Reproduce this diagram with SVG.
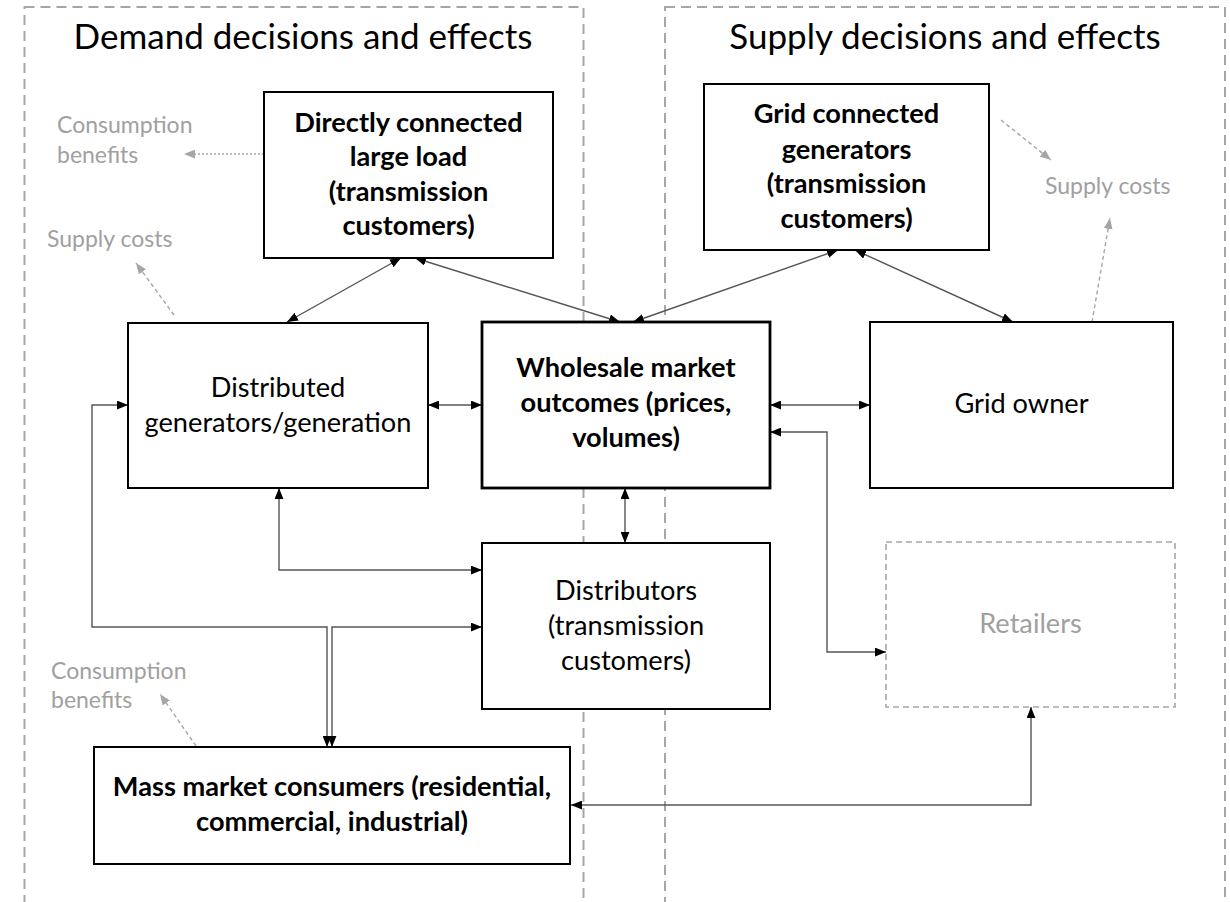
<svg xmlns="http://www.w3.org/2000/svg" width="1230" height="902" viewBox="0 0 1230 902">
<style>
.region{fill:none;stroke:#a6a6a6;stroke-width:2;stroke-dasharray:10 6}
.box{fill:#fff;stroke:#000;stroke-width:2}
.thick{stroke-width:2.8}
.ret{fill:#fff;stroke:#a6a6a6;stroke-width:1.6;stroke-dasharray:6 4}
.title{font-family:Lato,"Liberation Sans",sans-serif;font-size:35px;fill:#000;text-anchor:middle}
.t{font-family:Lato,"Liberation Sans",sans-serif;font-size:27.2px;fill:#000;text-anchor:middle}
.b{font-weight:bold}
.g{font-family:Lato,"Liberation Sans",sans-serif;font-size:23px;fill:#a0a0a0}
.gt{fill:#a0a0a0}
.c{fill:none;stroke:#555;stroke-width:1.4;marker-start:url(#ah);marker-end:url(#ah)}
.e{fill:none;stroke:#a6a6a6;stroke-width:1.4;stroke-dasharray:4 3;marker-end:url(#gh)}
.dot{stroke-dasharray:2 2}
</style>
<defs>
<marker id="ah" markerUnits="userSpaceOnUse" viewBox="0 0 10 8" refX="10" refY="4" markerWidth="11" markerHeight="9" orient="auto-start-reverse"><path d="M0,0 L10,4 L0,8 z" fill="#000"/></marker>
<marker id="gh" markerUnits="userSpaceOnUse" viewBox="0 0 10 8" refX="10" refY="4" markerWidth="11" markerHeight="9" orient="auto"><path d="M0,0 L10,4 L0,8 z" fill="#a6a6a6"/></marker>
</defs>
<rect width="1230" height="902" fill="#fff"/>
<g id="regions">
<rect class="region" x="24.5" y="7" width="559" height="930"/>
<rect class="region" x="665" y="7" width="560" height="930"/>
<text class="title" x="303" y="49">Demand decisions and effects</text>
<text class="title" x="945" y="49">Supply decisions and effects</text>
</g>
<g id="effects">
<text class="g" x="57" y="133">Consumption</text>
<text class="g" x="57" y="163">benefits</text>
<text class="g" x="47" y="247">Supply costs</text>
<text class="g" x="1045" y="194">Supply costs</text>
<text class="g" x="51" y="679">Consumption</text>
<text class="g" x="51" y="708">benefits</text>
<path class="e dot" d="M264,154 L184,154"/>
<path class="e" d="M174,315 L136,263"/>
<path class="e" d="M1001,120 L1051,160"/>
<path class="e" d="M1092,322 L1110,218"/>
<path class="e" d="M196,746 L160,694"/>
</g>
<g id="connectors">
<path class="c" d="M401,258 L287,322"/>
<path class="c" d="M415,258 L620,322"/>
<path class="c" d="M838,250 L633,322"/>
<path class="c" d="M855,250 L1013,322"/>
<path class="c" d="M428,405 L482,405"/>
<path class="c" d="M770,405 L870,405"/>
<path class="c" d="M770,432 L827,432 L827,652 L886,652"/>
<path class="c" d="M625,488 L625,543"/>
<path class="c" d="M279,488 L279,570 L482,570"/>
<path class="c" d="M128,405 L92,405 L92,627 L327,627 L327,747"/>
<path class="c" d="M482,627 L332,627 L332,747"/>
<path class="c" d="M1031,707 L1031,805 L571,805"/>
</g>
<g id="directly">
<rect class="box" x="264" y="92" width="289" height="166"/>
<text class="t b" x="408.5" y="132">Directly connected</text>
<text class="t b" x="408.5" y="166">large load</text>
<text class="t b" x="408.5" y="201">(transmission</text>
<text class="t b" x="408.5" y="235">customers)</text>
</g>
<g id="gridgen">
<rect class="box" x="704" y="84" width="285" height="166"/>
<text class="t b" x="846.5" y="123">Grid connected</text>
<text class="t b" x="846.5" y="159">generators</text>
<text class="t b" x="846.5" y="193">(transmission</text>
<text class="t b" x="846.5" y="228">customers)</text>
</g>
<g id="distributed">
<rect class="box" x="128" y="323" width="300" height="165"/>
<text class="t" x="278" y="397">Distributed</text>
<text class="t" x="278" y="432">generators/generation</text>
</g>
<g id="wholesale">
<rect class="box thick" x="482" y="322" width="288" height="166"/>
<text class="t b" x="626" y="377">Wholesale market</text>
<text class="t b" x="626" y="412">outcomes (prices,</text>
<text class="t b" x="626" y="447">volumes)</text>
</g>
<g id="gridowner">
<rect class="box" x="870" y="322" width="303" height="166"/>
<text class="t" x="1021.5" y="413">Grid owner</text>
</g>
<g id="distributors">
<rect class="box" x="482" y="543" width="288" height="166"/>
<text class="t" x="626" y="600">Distributors</text>
<text class="t" x="626" y="635">(transmission</text>
<text class="t" x="626" y="670">customers)</text>
</g>
<g id="retailers">
<rect class="ret" x="886" y="542" width="289" height="165"/>
<text class="t gt" x="1030.5" y="633">Retailers</text>
</g>
<g id="mass">
<rect class="box" x="94" y="747" width="476" height="117"/>
<text class="t b" x="332" y="796">Mass market consumers (residential,</text>
<text class="t b" x="332" y="831">commercial, industrial)</text>
</g>
</svg>
